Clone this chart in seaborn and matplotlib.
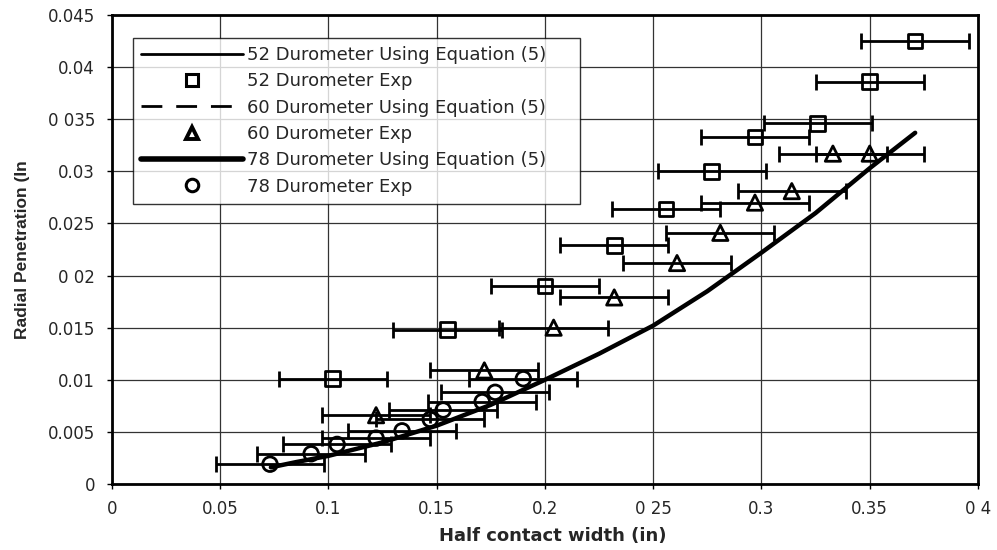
import matplotlib
matplotlib.use("Agg")
import matplotlib.pyplot as plt
import seaborn as sns
import pandas as pd
from matplotlib.lines import Line2D

# Equation (5) prediction, half contact width vs radial penetration
curve_x = [0.0734, 0.085, 0.10, 0.125, 0.15, 0.175, 0.20, 0.225, 0.25, 0.275, 0.30, 0.325, 0.35, 0.371]
curve_y = [0.0016, 0.0021, 0.0027, 0.0040, 0.0056, 0.0076, 0.0100, 0.0125, 0.0152, 0.0185, 0.0222, 0.0260, 0.0303, 0.0337]

# Experimental results
d52_x = [0.102, 0.155, 0.200, 0.232, 0.256, 0.277, 0.297, 0.326, 0.350, 0.371]
d52_y = [0.0101, 0.0148, 0.0190, 0.0229, 0.0264, 0.0300, 0.0333, 0.0346, 0.0386, 0.0425]

d60_x = [0.122, 0.172, 0.204, 0.232, 0.261, 0.281, 0.297, 0.314, 0.333, 0.350]
d60_y = [0.0066, 0.0109, 0.0150, 0.0179, 0.0212, 0.0241, 0.0270, 0.0281, 0.0317, 0.0317]

d78_x = [0.073, 0.092, 0.104, 0.122, 0.134, 0.147, 0.153, 0.171, 0.177, 0.190]
d78_y = [0.0019, 0.0029, 0.0038, 0.0044, 0.0051, 0.0062, 0.0071, 0.0079, 0.0088, 0.0101]

width_err = 0.025  # uncertainty on half contact width

x_ticks = [0, 0.05, 0.1, 0.15, 0.2, 0.25, 0.3, 0.35, 0.4]
x_tick_labels = ["0", "0.05", "0.1", "0.15", "0.2", "0 25", "0.3", "0.35", "0 4"]
y_ticks = [0, 0.005, 0.01, 0.015, 0.02, 0.025, 0.03, 0.035, 0.04, 0.045]
y_tick_labels = ["0", "0.005", "0.01", "0.015", "0 02", "0.025", "0.03", "0 035", "0.04", "0.045"]

sns.set_style("white")
plt.rcParams["font.family"] = ["DejaVu Sans", "Liberation Sans"]

fig = plt.figure(figsize=(9.97, 5.50), dpi=100)
ax = fig.add_axes([0.1123, 0.12, 0.8686, 0.8527])

curve = pd.DataFrame({"x": curve_x, "y": curve_y})

# model curves (the three equation curves coincide)
sns.lineplot(data=curve, x="x", y="y", ax=ax, color="black", lw=1.5,
             estimator=None, sort=False, zorder=3)
sns.lineplot(data=curve, x="x", y="y", ax=ax, color="black", lw=1.5,
             linestyle=(0, (7, 5)), estimator=None, sort=False, zorder=3)
sns.lineplot(data=curve, x="x", y="y", ax=ax, color="black", lw=3.2,
             estimator=None, sort=False, zorder=4)

series = [
    (d52_x, d52_y, "s", 10.5),
    (d60_x, d60_y, "^", 11),
    (d78_x, d78_y, "o", 10.5),
]
for xs, ys, mk, ms in series:
    ax.errorbar(xs, ys, xerr=[width_err] * len(xs), fmt="none", ecolor="black",
                elinewidth=2.0, capsize=6, capthick=2.0, zorder=5)
    sns.scatterplot(x=xs, y=ys, ax=ax, marker=mk, s=ms ** 2,
                    facecolor="none", edgecolor="black", linewidth=2.0, zorder=6)

ax.set_xlim(0, 0.4)
ax.set_ylim(0, 0.045)
ax.set_xticks(x_ticks)
ax.set_xticklabels(x_tick_labels)
ax.set_yticks(y_ticks)
ax.set_yticklabels(y_tick_labels)
ax.tick_params(axis="x", labelsize=12, length=3.6, width=1, direction="out",
               color="black", pad=8, bottom=True)
ax.tick_params(axis="y", labelsize=12, length=3.6, width=1, direction="out",
               color="black", pad=8.6, left=True)
ax.grid(True, color="#333333", lw=0.9)
for sp in ax.spines.values():
    sp.set_color("black")
    sp.set_linewidth(2.0)

ax.set_xlabel("Half contact width (in)", fontsize=13, fontweight="bold")
ax.xaxis.set_label_coords(0.509, -0.092)
ax.set_ylabel("Radial Penetration (In", fontsize=12.5, fontweight="bold",
              family=["Liberation Sans"], labelpad=13)

handles = [
    Line2D([], [], color="black", lw=2.0),
    Line2D([], [], color="none", marker="s", mfc="none", mec="black", mew=2.2, ms=9),
    Line2D([], [], color="black", lw=2.0, linestyle=(0, (7.5, 5))),
    Line2D([], [], color="none", marker="^", mfc="none", mec="black", mew=2.8, ms=9),
    Line2D([], [], color="black", lw=4.0),
    Line2D([], [], color="none", marker="o", mfc="none", mec="black", mew=2.2, ms=9),
]
labels = [
    "52 Durometer Using Equation (5)",
    "52 Durometer Exp",
    "60 Durometer Using Equation (5)",
    "60 Durometer Exp",
    "78 Durometer Using Equation (5)",
    "78 Durometer Exp",
]
leg = ax.legend(handles, labels, loc="upper left", mode="expand",
                bbox_to_anchor=(0.0242, 0.5, 0.516, 0.451),
                prop={"size": 13},
                handlelength=5.64, handletextpad=0.25, labelspacing=0.46,
                frameon=True, fancybox=False, borderpad=0.45, borderaxespad=0)
leg.get_frame().set_edgecolor("black")
leg.get_frame().set_linewidth(1.0)
leg.set_zorder(10)

fig.savefig("out.png", dpi=100)
